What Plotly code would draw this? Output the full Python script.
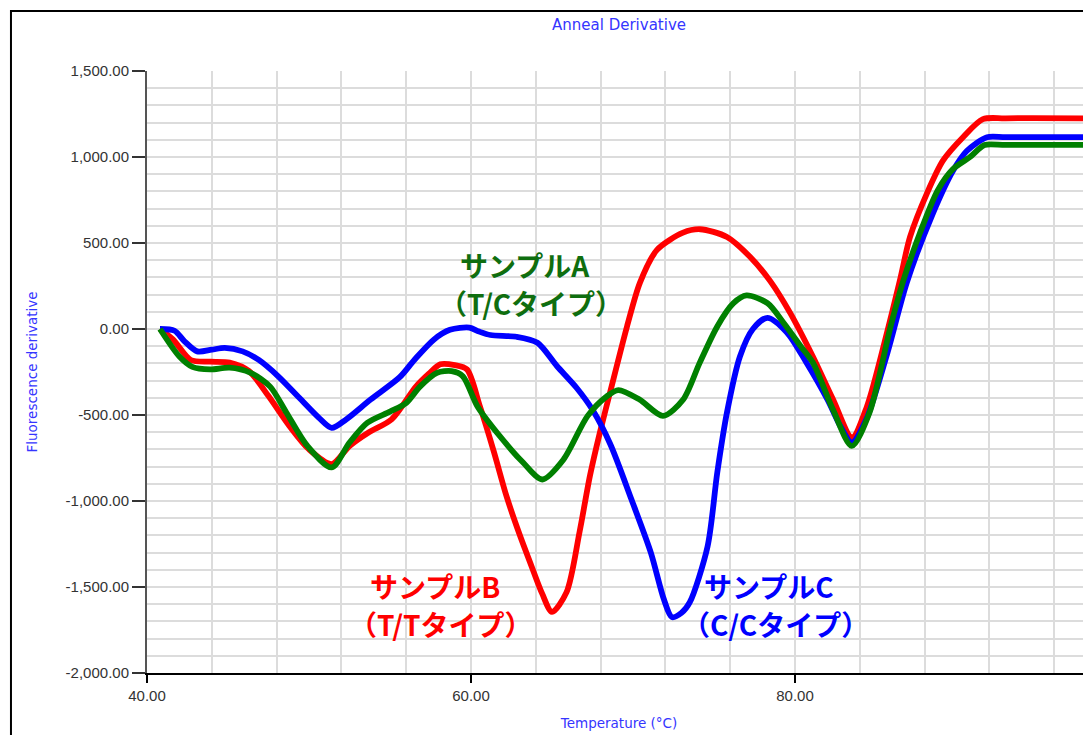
import plotly.graph_objects as go

# ---- data ----
temp_b = [40.8, 41.6, 42.7, 43.9, 45.1, 46.3, 47.5, 48.8, 50.0, 51.4, 52.5, 53.7, 55.1, 56.6, 57.4,
          58.1, 59.0, 59.75, 60.55, 61.4, 62.2, 63.0, 63.8, 64.4, 65.0, 65.9, 66.7, 67.35, 67.96,
          68.58, 69.63, 70.43, 71.48, 73.09, 74.14, 75.8, 77.22, 78.46, 79.69, 81.1, 82.35, 83.52,
          84.44, 85.68, 86.48, 87.1, 88.15, 89.14, 90.37, 91.6, 93.0, 97.9]
val_b = [0, -60, -180, -190, -195, -245, -390, -565, -700, -785, -680, -600, -525, -335, -260,
         -205, -210, -235, -450, -710, -975, -1195, -1395, -1540, -1645, -1530, -1180, -850, -600,
         -370, 15, 270, 460, 560, 580, 535, 420, 280, 95, -160, -410, -630,
         -450, -20, 285, 535, 790, 980, 1115, 1220, 1225, 1225]

temp_c = [40.8, 41.7, 42.3, 43.1, 44.0, 44.8, 45.9, 46.9, 48.1, 49.4, 50.6, 51.4, 52.3, 53.8, 55.6,
          56.5, 57.7, 58.7, 59.9, 60.5, 61.2, 62.8, 64.1, 65.3, 66.5, 67.5, 68.6, 69.9, 71.1, 71.9,
          72.4, 73.0, 73.5, 74.6, 75.2, 75.8, 76.6, 77.4, 78.3, 79.5, 80.7, 82.0, 82.8, 83.5, 84.4,
          85.7, 86.9, 88.5, 89.75, 90.6, 91.85, 93.0, 97.9]
val_c = [0, -10, -70, -130, -120, -110, -130, -180, -275, -400, -515, -575, -525, -410, -280,
         -180, -62, -5, 8, -15, -35, -45, -80, -215, -340, -470, -670, -990, -1300, -1570,
         -1675, -1650, -1590, -1265, -835, -485, -160, 0, 65, -20, -195, -410, -565, -660, -525,
         -140, 270, 670, 920, 1035, 1115, 1115, 1115]

temp_a = [40.8, 42.0, 42.8, 43.9, 45.1, 46.4, 47.6, 48.6, 49.9, 51.4, 52.5, 53.6, 55.0, 56.0, 56.85,
          57.9, 58.8, 59.5, 60.4, 61.8, 63.2, 64.4, 65.7, 67.2, 68.4, 69.1, 70.4, 71.85, 73.1,
          74.1, 75.2, 76.2, 77.0, 78.3, 79.3, 80.35, 81.1, 82.35, 83.5, 84.6, 85.9, 86.7, 87.7,
          88.8, 89.75, 90.8, 91.7, 93.0, 97.9]
val_a = [0, -160, -220, -235, -225, -255, -335, -485, -680, -805, -660, -545, -480, -430, -335,
         -255, -245, -275, -450, -625, -775, -875, -760, -505, -390, -355, -410, -505, -410,
         -200, 15, 150, 195, 150, 35, -100, -195, -470, -680, -485, 15, 285, 555,
         805, 930, 1000, 1070, 1070, 1070]

y_tick_vals = [-2000, -1500, -1000, -500, 0, 500, 1000, 1500]
y_tick_text = ["-2,000.00", "-1,500.00", "-1,000.00", "-500.00", "0.00", "500.00", "1,000.00", "1,500.00"]

title_text = "Anneal Derivative"
x_title = "Temperature (°C)"
y_title = "Fluorescence derivative"
# (line text, colour, x, y) for each label line
labels = [
    ("サンプルA", "#0f6e0f", 63.33, 373),
    ("（T/Cタイプ）", "#0f6e0f", 63.70, 150),
    ("サンプルB", "#ff0000", 57.78, -1495),
    ("（T/Tタイプ）", "#ff0000", 58.15, -1715),
    ("サンプルC", "#0000ff", 78.40, -1495),
    ("（C/Cタイプ）", "#0000ff", 78.77, -1715),
]

BLUE_TXT = "#3535ff"

fig = go.Figure()
for t, v, col, nm in [(temp_b, val_b, "#ff0000", "サンプルB"),
                      (temp_c, val_c, "#0000ff", "サンプルC"),
                      (temp_a, val_a, "#008000", "サンプルA")]:
    fig.add_trace(go.Scatter(x=t, y=v, mode="lines", name=nm,
                             line=dict(color=col, width=5.8, shape="spline", smoothing=0.8)))

for txt, col, lx, ly in labels:
    fig.add_annotation(x=lx, y=ly, text="<b>" + txt + "</b>", showarrow=False,
                       xanchor="center", yanchor="middle",
                       font=dict(family="Noto Sans CJK JP", size=28, color=col))

# outer frame
fig.add_shape(type="rect", xref="paper", yref="paper",
              x0=-0.1441, x1=1.06, y0=-0.25, y1=1.0997,
              line=dict(color="black", width=2), fillcolor="rgba(0,0,0,0)", layer="above")

W, H = 1083, 727
fig.update_layout(
    width=W, height=H,
    margin=dict(l=139, r=0, t=63, b=62),
    paper_bgcolor="white", plot_bgcolor="white",
    showlegend=False,
    title=dict(text=title_text, x=0.5, xref="paper", xanchor="center",
               y=1 - 17 / H, yref="container", yanchor="middle",
               font=dict(family="DejaVu Sans", size=15, color=BLUE_TXT)),
    xaxis=dict(range=[40, 98.27], dtick=20, tick0=40, tickformat=".2f",
               showgrid=True, gridcolor="#dcdcdc", gridwidth=1.5,
               minor=dict(dtick=4, tick0=40, showgrid=True, gridcolor="#dcdcdc", gridwidth=1.5),
               showline=True, linecolor="black", linewidth=1.5,
               ticks="outside", ticklen=8, tickcolor="black", tickwidth=1.5,
               tickfont=dict(family="Liberation Sans", size=15, color="#333333"),
               zeroline=False, automargin=False,
               title=dict(text=x_title, standoff=16,
                          font=dict(family="DejaVu Sans", size=13.5, color=BLUE_TXT))),
    yaxis=dict(range=[-2000, 1500], tickmode="array", tickvals=y_tick_vals, ticktext=y_tick_text,
               showgrid=True, gridcolor="#dcdcdc", gridwidth=1.5,
               minor=dict(dtick=100, tick0=0, showgrid=True, gridcolor="#dcdcdc", gridwidth=1.5),
               showline=True, linecolor="#555555", linewidth=2,
               ticks="outside", ticklen=13, tickcolor="#333333", tickwidth=1.5,
               tickfont=dict(family="Liberation Sans", size=15, color="#333333"),
               zeroline=False, automargin=False,
               title=dict(text=y_title, standoff=25,
                          font=dict(family="DejaVu Sans", size=13.5, color=BLUE_TXT))),
)

fig.write_html("out.html")
